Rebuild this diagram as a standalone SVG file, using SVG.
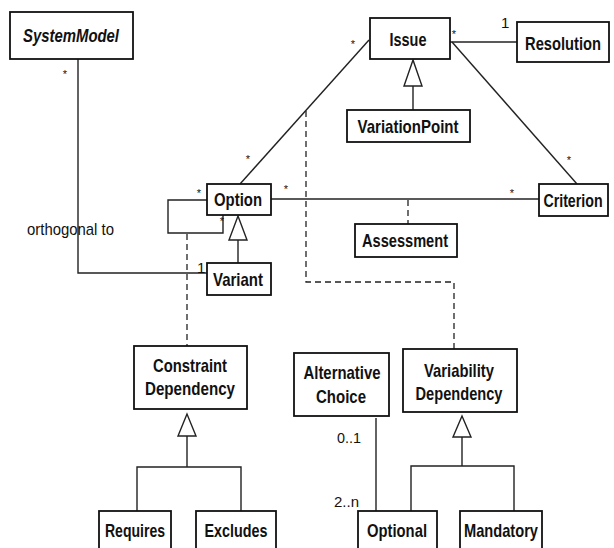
<svg xmlns="http://www.w3.org/2000/svg" width="614" height="548" viewBox="0 0 614 548">
  <style>
    .box { fill: #ffffff; stroke: #111111; stroke-width: 1.8; }
    .lbl { font-family: "Liberation Sans", Arial, sans-serif; font-weight: bold; font-size: 19px; fill: #111111; text-anchor: middle; }
    .it { font-style: italic; }
    .line { fill: none; stroke: #222222; stroke-width: 1.4; }
    .dash { fill: none; stroke: #222222; stroke-width: 1.3; stroke-dasharray: 6 4; }
    .tri { fill: #ffffff; stroke: #222222; stroke-width: 1.4; }
    .mult { font-family: "Liberation Sans", Arial, sans-serif; font-size: 15px; fill: #111111; }
    .star { font-family: "Liberation Sans", Arial, sans-serif; font-size: 11px; fill: #111111; text-anchor: middle; }
  </style>
  <rect width="614" height="548" fill="#ffffff"/>

  <!-- associations, generalizations and dependencies -->
  <g id="connectors">
    <polyline class="line" points="78,59 78,273 207,273"/>
    <line class="line" x1="369" y1="40" x2="240" y2="184"/>
    <line class="line" x1="450" y1="42" x2="517" y2="42"/>
    <line class="line" x1="452" y1="42" x2="577" y2="184"/>
    <line class="line" x1="271" y1="199" x2="539" y2="199"/>
    <line class="dash" x1="408" y1="200" x2="408" y2="224"/>
    <polyline class="line" points="207,200 168,200 168,233 223,233 223,215"/>
    <polyline class="dash" points="306,111 306,282 454,282 454,349"/>
    <line class="dash" x1="187" y1="234" x2="187" y2="346"/>

    <!-- VariationPoint is an Issue -->
    <line class="line" x1="413" y1="110" x2="413" y2="86"/>
    <polygon class="tri" points="413,60 404,86 422,86"/>
    <!-- Variant is an Option -->
    <line class="line" x1="238" y1="263" x2="238" y2="240"/>
    <polygon class="tri" points="238,216 229,240 247,240"/>
    <!-- Requires / Excludes are Constraint Dependencies -->
    <polygon class="tri" points="187,414 178,436 196,436"/>
    <polyline class="line" points="187,436 187,467"/>
    <polyline class="line" points="137,511 137,467 241,467 241,511"/>
    <!-- Optional / Mandatory are Variability Dependencies -->
    <polygon class="tri" points="462,416 453,437 471,437"/>
    <polyline class="line" points="462,437 462,466"/>
    <polyline class="line" points="411,511 411,466 514,466 514,511"/>
    <!-- Alternative Choice groups Optionals -->
    <line class="line" x1="376" y1="418" x2="376" y2="511"/>

    <!-- multiplicities and role text -->
    <text class="star" x="65" y="78">*</text>
    <text class="star" x="353" y="48">*</text>
    <text class="star" x="248" y="163">*</text>
    <text class="star" x="454" y="38">*</text>
    <text class="mult" x="501" y="28">1</text>
    <text class="star" x="569" y="164">*</text>
    <text class="star" x="286" y="193">*</text>
    <text class="star" x="512" y="197">*</text>
    <text class="star" x="199" y="197">*</text>
    <text class="star" x="222" y="225">*</text>
    <text class="mult" x="197" y="273">1</text>
    <text class="mult" x="337" y="443" textLength="24" lengthAdjust="spacingAndGlyphs">0..1</text>
    <text class="mult" x="334" y="507" textLength="25" lengthAdjust="spacingAndGlyphs">2..n</text>
    <text class="mult" x="27" y="235" textLength="87" lengthAdjust="spacingAndGlyphs" style="font-size:17px">orthogonal to</text>
  </g>

  <g id="SystemModel">
    <rect class="box" x="10" y="12" width="123" height="47"/>
    <text class="lbl it" x="71" y="42" textLength="96" lengthAdjust="spacingAndGlyphs">SystemModel</text>
  </g>
  <g id="Issue">
    <rect class="box" x="370" y="18" width="80" height="41"/>
    <text class="lbl" x="408" y="46" textLength="37" lengthAdjust="spacingAndGlyphs">Issue</text>
  </g>
  <g id="Resolution">
    <rect class="box" x="517" y="22" width="92" height="40"/>
    <!-- horizontally condensed label -->
    <text class="lbl" transform="translate(563,50) scale(0.8,1)" x="0" y="0" textLength="95" lengthAdjust="spacingAndGlyphs">Resolution</text>
  </g>
  <g id="VariationPoint">
    <rect class="box" x="347" y="110" width="123" height="32"/>
    <text class="lbl" x="408" y="133" textLength="101" lengthAdjust="spacingAndGlyphs">VariationPoint</text>
  </g>
  <g id="Option">
    <rect class="box" x="207" y="184" width="64" height="31"/>
    <text class="lbl" x="238" y="206" textLength="48" lengthAdjust="spacingAndGlyphs">Option</text>
  </g>
  <g id="Criterion">
    <rect class="box" x="539" y="184" width="69" height="32"/>
    <text class="lbl" transform="translate(573,207) scale(0.8,1)" x="0" y="0" textLength="74" lengthAdjust="spacingAndGlyphs">Criterion</text>
  </g>
  <g id="Assessment">
    <rect class="box" x="355" y="224" width="102" height="33"/>
    <text class="lbl" x="405" y="247" textLength="86" lengthAdjust="spacingAndGlyphs">Assessment</text>
  </g>
  <g id="Variant">
    <rect class="box" x="207" y="263" width="64" height="32"/>
    <text class="lbl" x="238" y="286" textLength="50" lengthAdjust="spacingAndGlyphs">Variant</text>
  </g>
  <g id="ConstraintDependency">
    <rect class="box" x="134" y="346" width="113" height="63"/>
    <text class="lbl" x="190" y="372" textLength="74" lengthAdjust="spacingAndGlyphs">Constraint</text>
    <text class="lbl" x="190" y="395" textLength="90" lengthAdjust="spacingAndGlyphs">Dependency</text>
  </g>
  <g id="AlternativeChoice">
    <rect class="box" x="294" y="353" width="95" height="63"/>
    <text class="lbl" x="342" y="379" textLength="77" lengthAdjust="spacingAndGlyphs">Alternative</text>
    <text class="lbl" x="341" y="403" textLength="50" lengthAdjust="spacingAndGlyphs">Choice</text>
  </g>
  <g id="VariabilityDependency">
    <rect class="box" x="403" y="349" width="114" height="63"/>
    <text class="lbl" x="459" y="377" textLength="70" lengthAdjust="spacingAndGlyphs">Variability</text>
    <text class="lbl" x="459" y="400" textLength="87" lengthAdjust="spacingAndGlyphs">Dependency</text>
  </g>
  <g id="Requires">
    <rect class="box" x="99" y="511" width="72" height="50"/>
    <text class="lbl" x="135" y="537" textLength="60" lengthAdjust="spacingAndGlyphs">Requires</text>
  </g>
  <g id="Excludes">
    <rect class="box" x="196" y="511" width="80" height="50"/>
    <text class="lbl" x="236" y="537" textLength="63" lengthAdjust="spacingAndGlyphs">Excludes</text>
  </g>
  <g id="Optional">
    <rect class="box" x="358" y="511" width="79" height="50"/>
    <text class="lbl" x="397" y="537" textLength="60" lengthAdjust="spacingAndGlyphs">Optional</text>
  </g>
  <g id="Mandatory">
    <rect class="box" x="460" y="511" width="82" height="50"/>
    <text class="lbl" x="501" y="537" textLength="74" lengthAdjust="spacingAndGlyphs">Mandatory</text>
  </g>
</svg>
